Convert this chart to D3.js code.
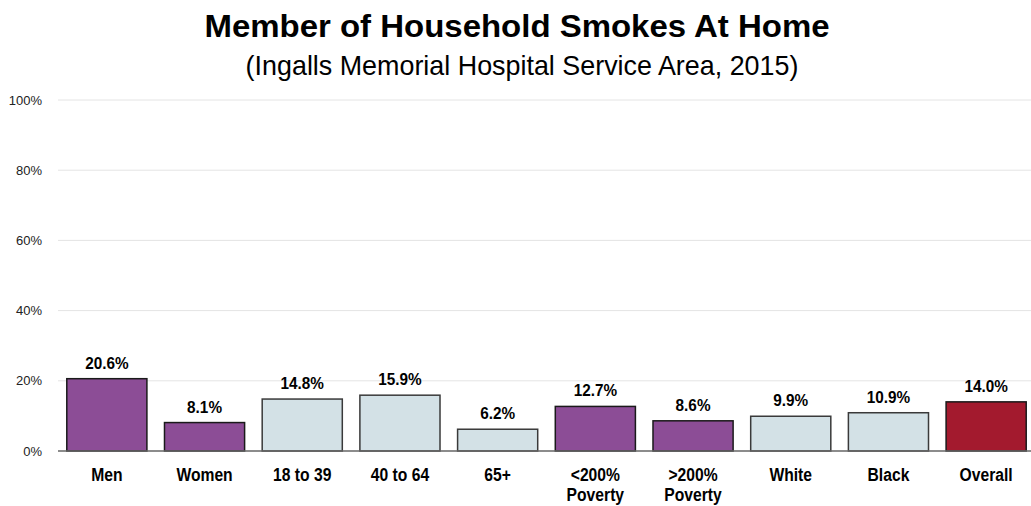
<!DOCTYPE html>
<html>
  <head>
    <meta charset="UTF-8" />
    <script src="https://d3js.org/d3.v7.min.js"></script>
    <style>
      body { margin: 0; background: #fff; }
      text { font-family: "Liberation Sans", Arial, sans-serif; }
    </style>
  </head>
  <body>
    <svg width="1031" height="506"></svg>
    <script>
      // data
      const categories = ["Men", "Women", "18 to 39", "40 to 64", "65+", "<200%|Poverty", ">200%|Poverty", "White", "Black", "Overall"]
      const values = [20.6, 8.1, 14.8, 15.9, 6.2, 12.7, 8.6, 9.9, 10.9, 14.0]
      const groups = ["sex", "sex", "age", "age", "age", "income", "income", "race", "race", "total"]
      const yTicks = [0, 20, 40, 60, 80, 100]

      const colors = { sex: "#8c4d96", age: "#d3e1e6", income: "#8c4d96", race: "#d3e1e6", total: "#a31a2e" }

      const svg = d3.select("svg")
      const margin = { top: 100, bottom: 55, left: 58, right: -4 }
      const width = +svg.attr("width")
      const height = +svg.attr("height")

      // squeeze text horizontally (the original uses a narrower rendering)
      function squeeze(sel, k) {
        sel.each(function () {
          const len = this.getComputedTextLength()
          d3.select(this).attr("textLength", len * k).attr("lengthAdjust", "spacingAndGlyphs")
        })
      }

      const x = d3.scaleBand()
        .domain(categories)
        .range([margin.left, width - margin.right])
        .paddingInner(0.18)
        .paddingOuter(0.09)

      const y = d3.scaleLinear()
        .domain([0, 100])
        .range([height - margin.bottom, margin.top])

      // title
      svg.append("text")
        .attr("x", 517).attr("y", 37)
        .attr("text-anchor", "middle")
        .attr("font-size", 32).attr("font-weight", "bold")
        .text("Member of Household Smokes At Home")
        .call(squeeze, 1.03)
      svg.append("text")
        .attr("x", 522).attr("y", 75)
        .attr("text-anchor", "middle")
        .attr("font-size", 28)
        .text("(Ingalls Memorial Hospital Service Area, 2015)")
        .call(squeeze, 0.96)

      // grid
      svg.append("g")
        .selectAll("line")
        .data(yTicks.filter(d => d > 0))
        .enter().append("line")
        .attr("x1", margin.left).attr("x2", width)
        .attr("y1", d => y(d)).attr("y2", d => y(d))
        .attr("stroke", "#e4e4e4").attr("stroke-width", 1)

      // y axis labels
      const yAxis = d3.axisLeft(y).tickValues(yTicks).tickFormat(d => d + "%").tickSize(0).tickPadding(16)
      const ya = svg.append("g").attr("transform", "translate(" + margin.left + ",0)").call(yAxis)
      ya.select(".domain").remove()
      ya.selectAll("text").attr("font-size", 13).attr("font-family", "Liberation Sans, Arial, sans-serif").attr("fill", "#222")

      // bars
      svg.append("g")
        .selectAll("rect")
        .data(values)
        .enter().append("rect")
        .attr("x", (d, i) => x(categories[i]))
        .attr("y", d => y(d))
        .attr("width", x.bandwidth())
        .attr("height", d => y(0) - y(d))
        .attr("fill", (d, i) => colors[groups[i]])
        .attr("stroke", (d, i) => colors[groups[i]] === "#d3e1e6" ? "#3a3a3a" : "#1a1a1a")
        .attr("stroke-width", 1.5)

      // baseline
      svg.append("line")
        .attr("x1", margin.left).attr("x2", width)
        .attr("y1", y(0)).attr("y2", y(0))
        .attr("stroke", "#666").attr("stroke-width", 1.5)

      // value labels
      svg.append("g")
        .selectAll("text")
        .data(values)
        .enter().append("text")
        .attr("x", (d, i) => x(categories[i]) + x.bandwidth() / 2)
        .attr("y", d => y(d) - 10)
        .attr("text-anchor", "middle")
        .attr("font-size", 17).attr("font-weight", "bold")
        .text(d => d.toFixed(1) + "%")
        .call(squeeze, 0.9)

      // category labels
      const cl = svg.append("g")
        .selectAll("text")
        .data(categories)
        .enter().append("text")
        .attr("x", d => x(d) + x.bandwidth() / 2)
        .attr("y", 481)
        .attr("text-anchor", "middle")
        .attr("font-size", 18).attr("font-weight", "bold")
      cl.selectAll("tspan")
        .data(d => d.split("|"))
        .enter().append("tspan")
        .attr("x", function () { return d3.select(this.parentNode).attr("x") })
        .attr("dy", (d, i) => i === 0 ? 0 : 20)
        .text(d => d)
        .call(squeeze, 0.87)
    </script>
  </body>
</html>
